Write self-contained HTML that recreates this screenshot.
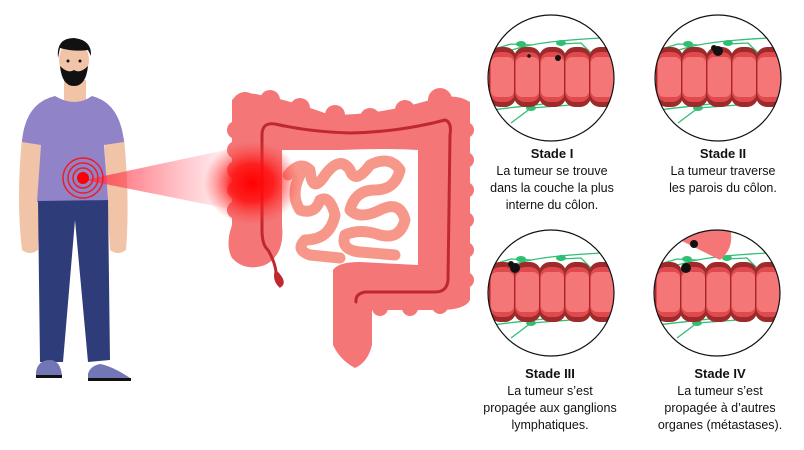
<!DOCTYPE html>
<html><head><meta charset="utf-8"><style>
html,body{margin:0;padding:0;background:#fff;width:804px;height:450px;overflow:hidden}
text{font-family:"Liberation Sans",Arial,sans-serif;font-size:12.5px;fill:#111}
.b{font-weight:bold;font-size:13px}
</style></head><body>
<svg width="804" height="450" viewBox="0 0 804 450" xmlns="http://www.w3.org/2000/svg">
<defs>
<radialGradient id="glow" cx="0.5" cy="0.5" r="0.5">
<stop offset="0" stop-color="#ff0000" stop-opacity="1"/>
<stop offset="0.45" stop-color="#ff1010" stop-opacity="0.85"/>
<stop offset="1" stop-color="#ff4040" stop-opacity="0"/>
</radialGradient>
<linearGradient id="beam" x1="0" x2="1" y1="0" y2="0">
<stop offset="0" stop-color="#ff3040" stop-opacity="0.85"/>
<stop offset="1" stop-color="#ff6070" stop-opacity="0.05"/>
</linearGradient>
<g id="seg">
<rect x="0" y="-31" width="27" height="60" rx="11" fill="#9e2a2b"/>
<rect x="1" y="-26" width="25" height="50" rx="10" fill="#e04a4e"/>
<rect x="2" y="-21" width="23" height="40" rx="6" fill="#f47676"/>
</g>
<g id="tube">
<path d="M-80 -12 C-40 -30 -20 -35 20 -38 S60 -40 80 -42" stroke="#2fbf72" stroke-width="1.3" fill="none"/>
<path d="M-60 -28 L-40 -34 L-20 -33 M10 -34 L30 -35 L40 -25" stroke="#2fbf72" stroke-width="1.3" fill="none"/>
<path d="M-80 35 C-50 30 -20 28 0 25 M-40 45 L-20 30 L20 27 M-90 33 L-70 35" stroke="#2fbf72" stroke-width="1.3" fill="none"/>
<ellipse cx="-30" cy="-34" rx="5" ry="3" fill="#2fbf72"/>
<ellipse cx="10" cy="-35" rx="5" ry="3" fill="#2fbf72"/>
<ellipse cx="-20" cy="30" rx="5" ry="3" fill="#2fbf72"/>
<use href="#seg" x="-112"/><use href="#seg" x="-87"/><use href="#seg" x="-62"/><use href="#seg" x="-37"/>
<use href="#seg" x="-12"/><use href="#seg" x="13"/><use href="#seg" x="38"/><use href="#seg" x="63"/><use href="#seg" x="88"/>
</g>
<clipPath id="c1"><circle cx="551" cy="78" r="63"/></clipPath>
<clipPath id="c2"><circle cx="718" cy="78" r="63"/></clipPath>
<clipPath id="c3"><circle cx="551" cy="293" r="63"/></clipPath>
<clipPath id="c4"><circle cx="717" cy="293" r="63"/></clipPath>
</defs>

<!-- man -->
<path d="M22 138 L42 138 L38 250 Q30 256 22 250 Q16 200 22 138 Z" fill="#f1c4a8"/>
<path d="M104 138 L124 138 Q130 200 126 250 Q118 256 110 250 Z" fill="#f1c4a8"/>
<rect x="64" y="80" width="22" height="24" fill="#f1c4a8"/>
<path d="M22 142 Q25 103 55 96 Q75 108 92 96 Q120 103 124 142 L104 145 L108 200 L37 202 L41 145 Z" fill="#9183c8"/>
<path d="M38 201 L108 200 L110 360 L88 362 L75 220 L63 362 L40 362 Z" fill="#2e3d7a"/>
<path d="M36 372 Q38 360 50 360 Q60 360 62 375 L36 375 Z" fill="#7276b6"/>
<rect x="36" y="375" width="26" height="3" fill="#111"/>
<path d="M88 374 Q90 366 100 364 Q112 366 130 378 L88 380 Z" fill="#7276b6"/>
<rect x="88" y="378" width="43" height="3" fill="#111"/>
<ellipse cx="74" cy="60" rx="15" ry="19" fill="#f1c4a8"/>
<path d="M58 58 Q56 38 74 38 Q92 40 91 56 L88 50 Q74 52 60 48 Z" fill="#111"/>
<path d="M60 66 Q62 86 74 86 Q86 86 88 66 Q80 74 74 70 Q68 74 60 66 Z" fill="#111"/>
<circle cx="68" cy="61" r="1.5" fill="#111"/><circle cx="80" cy="61" r="1.5" fill="#111"/>
<!-- beam -->
<path d="M85 180 L235 148 L235 210 Z" fill="url(#beam)"/>
<g fill="none" stroke="#ee1c24" stroke-width="1.5">
<circle cx="83" cy="178" r="20"/><circle cx="83" cy="178" r="15"/><circle cx="83" cy="178" r="10"/>
</g>
<circle cx="83" cy="178" r="6" fill="#ff0000"/>

<!-- colon -->
<g fill="#f47676">
<path d="M232 100 Q240 90 260 95 Q290 100 330 115 Q380 115 430 100 Q455 92 470 102 L470 300 Q465 310 440 310 L372 310 L372 345 Q368 362 355 368 Q340 360 333 345 L333 270 Q338 262 360 262 L418 265 L418 150 Q390 148 340 150 L282 150 L282 225 Q285 255 265 265 Q245 272 232 258 Q225 245 232 225 Z"/>
<circle cx="245" cy="105" r="13"/><circle cx="236" cy="130" r="9"/><circle cx="236" cy="150" r="9"/><circle cx="236" cy="170" r="9"/><circle cx="236" cy="190" r="9"/><circle cx="236" cy="210" r="9"/>
<circle cx="255" cy="240" r="26"/>
<circle cx="270" cy="100" r="10"/><circle cx="300" cy="108" r="10"/><circle cx="335" cy="115" r="10"/><circle cx="370" cy="118" r="10"/><circle cx="405" cy="110" r="10"/><circle cx="440" cy="100" r="12"/>
<circle cx="466" cy="130" r="8"/><circle cx="466" cy="160" r="8"/><circle cx="466" cy="190" r="8"/><circle cx="466" cy="220" r="8"/><circle cx="466" cy="250" r="8"/><circle cx="466" cy="280" r="8"/>
<circle cx="440" cy="306" r="8"/><circle cx="410" cy="308" r="8"/><circle cx="380" cy="308" r="8"/>
</g>
<path d="M288 175 Q300 160 310 170 Q312 195 325 175 Q340 155 350 170 Q355 185 370 165 Q390 155 400 170 Q395 190 375 190 Q355 190 350 210 Q360 220 380 210 Q400 200 405 220 Q400 240 380 235 Q360 228 345 235 Q340 250 360 252 L395 255 M300 175 Q290 195 300 210 Q315 215 320 200 Q330 195 335 215 Q330 240 305 240 Q295 250 310 255 L340 258"
 fill="none" stroke="#f7978a" stroke-width="11" stroke-linecap="round" stroke-linejoin="round"/>
<path d="M268 250 Q262 245 262 230 L262 135 Q262 122 275 124 Q310 132 350 133 Q400 132 445 120 Q452 122 450 135 L448 280 Q447 292 435 292 L365 292 Q355 294 356 302" fill="none" stroke="#c0282f" stroke-width="3" stroke-linecap="round"/>
<path d="M268 250 Q275 262 276 272 Q286 282 280 286 Q274 280 276 272" fill="#c0282f" stroke="#c0282f" stroke-width="3"/>
<ellipse cx="252" cy="183" rx="48" ry="42" fill="url(#glow)"/>

<!-- circles -->
<g clip-path="url(#c1)"><use href="#tube" x="551" y="78"/>
<circle cx="529" cy="56" r="1.8" fill="#111"/><circle cx="558" cy="58" r="3" fill="#111"/></g>
<circle cx="551" cy="78" r="63" fill="none" stroke="#111" stroke-width="1.2"/>
<g clip-path="url(#c2)"><use href="#tube" x="718" y="78"/>
<circle cx="718" cy="51" r="5" fill="#111"/><circle cx="714" cy="48" r="3" fill="#111"/></g>
<circle cx="718" cy="78" r="63" fill="none" stroke="#111" stroke-width="1.2"/>
<g clip-path="url(#c3)"><use href="#tube" x="551" y="293"/>
<circle cx="515" cy="268" r="5" fill="#111"/><circle cx="511" cy="264" r="3" fill="#111"/></g>
<circle cx="551" cy="293" r="63" fill="none" stroke="#111" stroke-width="1.2"/>
<g clip-path="url(#c4)"><use href="#tube" x="717" y="293"/>
<path d="M670 235 Q700 250 720 260 Q735 248 730 228 Z" fill="#f47676"/>
<circle cx="694" cy="244" r="4" fill="#111"/><circle cx="686" cy="268" r="5" fill="#111"/></g>
<circle cx="717" cy="293" r="63" fill="none" stroke="#111" stroke-width="1.2"/>

<!-- labels -->
<g text-anchor="middle">
<text class="b" x="552" y="158">Stade I</text>
<text x="552" y="175">La tumeur se trouve</text>
<text x="552" y="192">dans la couche la plus</text>
<text x="552" y="209">interne du côlon.</text>
<text class="b" x="723" y="158">Stade II</text>
<text x="723" y="175">La tumeur traverse</text>
<text x="723" y="192">les parois du côlon.</text>
<text class="b" x="550" y="378">Stade III</text>
<text x="550" y="395">La tumeur s’est</text>
<text x="550" y="412">propagée aux ganglions</text>
<text x="550" y="429">lymphatiques.</text>
<text class="b" x="720" y="378">Stade IV</text>
<text x="720" y="395">La tumeur s’est</text>
<text x="720" y="412">propagée à d’autres</text>
<text x="720" y="429">organes (métastases).</text>
</g>
</svg>
</body></html>
